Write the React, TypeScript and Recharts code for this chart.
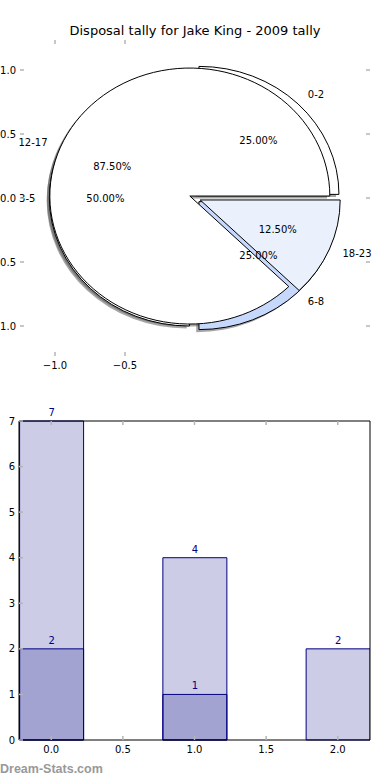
import React from 'react';
import { PieChart, Pie, BarChart, Bar, XAxis, YAxis, LabelList } from 'recharts';

// pie: two overlapping pies, drawn the way the original matplotlib figure did
const bandsA = ['0-2', '3-5', '6-8'];
const countsA = [2, 4, 2];
const bandsB = ['12-17', '18-23'];
const countsB = [7, 1];
const fillsA = ['#ffffff', '#ffffff', '#c6d9fd'];
const fillsB = ['#ffffff', '#eaf1fd'];
const explodeA = [0.04, 0.04, 0.04];
const explodeB = [0.04, 0.04];

const pieTicksY = [-1, -0.5, 0, 0.5, 1];
const pieTicksX = [-1, -0.5];

// bars
const barX = [0, 1, 2];
const barTotals = [7, 4, 2];
const barSubset = [2, 1, null];
const barTicksX = [0, 0.5, 1, 1.5, 2];
const barTicksY = [0, 1, 2, 3, 4, 5, 6, 7];

const FONT = 'DejaVu Sans';
const NAVY = '#000080';
const TICK = '#b4b4b4';

// pie axes: 1 unit = 140px across, 128px down (matplotlib axes were not square)
const CX = 195;
const CY = 198;
const UX = 140;
const UY = 128;

const pieA = bandsA.map((name, i) => ({ name, value: countsA[i], fill: fillsA[i], explode: explodeA[i] }));
const pieB = bandsB.map((name, i) => ({ name, value: countsB[i], fill: fillsB[i], explode: explodeB[i] }));

const barData = barX.map((x, i) => ({ x, total: barTotals[i], subset: barSubset[i] }));

const rad = Math.PI / 180;

function wedgePath(cx: number, cy: number, rx: number, ry: number, a0: number, a1: number) {
  const x0 = cx + rx * Math.cos(a0 * rad);
  const y0 = cy - ry * Math.sin(a0 * rad);
  const x1 = cx + rx * Math.cos(a1 * rad);
  const y1 = cy - ry * Math.sin(a1 * rad);
  const large = a1 - a0 > 180 ? 1 : 0;
  return `M${cx},${cy}L${x0},${y0}A${rx},${ry} 0 ${large} 0 ${x1},${y1}Z`;
}

function wedgeCentre(p: any) {
  const a0 = Math.min(p.startAngle, p.endAngle);
  const a1 = Math.max(p.startAngle, p.endAngle);
  const mid = (a0 + a1) / 2;
  const e = p.explode ?? p.payload?.explode ?? 0;
  const ry = (p.outerRadius * UY) / UX;
  return {
    a0,
    a1,
    mid,
    rx: p.outerRadius,
    ry,
    wx: p.cx + e * p.outerRadius * Math.cos(mid * rad),
    wy: p.cy - e * ry * Math.sin(mid * rad),
  };
}

const faceShape = (p: any) => {
  const w = wedgeCentre(p);
  const fill = p.payload?.fill ?? p.fill;
  return <path d={wedgePath(w.wx, w.wy, w.rx, w.ry, w.a0, w.a1)} fill={fill} stroke='#000' strokeWidth={1} />;
};

const shadowShape = (p: any) => {
  const w = wedgeCentre(p);
  return (
    <path
      d={wedgePath(w.wx - 0.02 * UX, w.wy + 0.02 * UY, w.rx, w.ry, w.a0, w.a1)}
      fill='#4d4d4d'
      fillOpacity={0.5}
      stroke='none'
    />
  );
};

const noShape = () => <g />;

const pieText = (p: any) => {
  const w = wedgeCentre(p);
  const c = Math.cos(p.midAngle * rad);
  const s = Math.sin(p.midAngle * rad);
  const pct = ((p.percent ?? 0) * 100).toFixed(2) + '%';
  return (
    <g key={`t-${p.name}`}>
      <text
        x={w.wx + 1.1 * w.rx * c}
        y={w.wy - 1.1 * w.ry * s}
        textAnchor={c > 0 ? 'start' : 'end'}
        dominantBaseline='central'
        fontFamily={FONT}
        fontSize={10}
        fill='#000'
      >
        {p.name}
      </text>
      <text
        x={w.wx + 0.6 * w.rx * c}
        y={w.wy - 0.6 * w.ry * s}
        textAnchor='middle'
        dominantBaseline='central'
        fontFamily={FONT}
        fontSize={10}
        fill='#000'
      >
        {pct}
      </text>
    </g>
  );
};

// the left tick labels run off the page edge in the original, only the digits show
const fmtPieLeft = (v: number) => Math.abs(v).toFixed(1);
const fmtPie = (v: number) => (v < 0 ? '\u2212' : '') + Math.abs(v).toFixed(1);

function PieFrame() {
  return (
    <svg width={390} height={390} style={{ position: 'absolute', left: 0, top: 0, pointerEvents: 'none' }}>
      <text x={195} y={30} textAnchor='middle' dominantBaseline='central' fontFamily={FONT} fontSize={13} fill='#000'>
        Disposal tally for Jake King - 2009 tally
      </text>
      {pieTicksY.map((v) => {
        const y = CY - v * UY;
        return (
          <g key={`y${v}`}>
            <line x1={20} x2={24} y1={y} y2={y} stroke={TICK} strokeWidth={1.5} />
            <line x1={366} x2={370} y1={y} y2={y} stroke={TICK} strokeWidth={1.5} />
            <text x={16} y={y} textAnchor='end' dominantBaseline='central' fontFamily={FONT} fontSize={10} fill='#000'>
              {fmtPieLeft(v)}
            </text>
          </g>
        );
      })}
      {pieTicksX.map((v) => {
        const x = CX + v * UX;
        return (
          <g key={`x${v}`}>
            <line x1={x} x2={x} y1={40} y2={44} stroke={TICK} strokeWidth={1.5} />
            <line x1={x} x2={x} y1={352} y2={356} stroke={TICK} strokeWidth={1.5} />
            <text x={x} y={365} textAnchor='middle' dominantBaseline='central' fontFamily={FONT} fontSize={10} fill='#000'>
              {fmtPie(v)}
            </text>
          </g>
        );
      })}
    </svg>
  );
}

const pieCommon = {
  dataKey: 'value',
  nameKey: 'name',
  cx: CX,
  cy: CY,
  innerRadius: 0,
  outerRadius: UX,
  startAngle: 0,
  endAngle: 360,
  stroke: 'none',
  labelLine: false,
  isAnimationActive: false,
};

// bar axes ticks, matplotlib style (pointing inwards)
const BottomTick = (p: any) => (
  <g>
    <line x1={p.x} x2={p.x} y1={p.y} y2={p.y - 4} stroke={TICK} strokeWidth={1.5} />
    <text x={p.x} y={p.y + 9.5} textAnchor='middle' dominantBaseline='central' fontFamily={FONT} fontSize={10} fill='#000'>
      {Number(p.payload.value).toFixed(1)}
    </text>
  </g>
);
const TopTick = (p: any) => <line x1={p.x} x2={p.x} y1={p.y} y2={p.y + 4} stroke={TICK} strokeWidth={1.5} />;
const LeftTick = (p: any) => (
  <g>
    <line x1={p.x} x2={p.x + 4} y1={p.y} y2={p.y} stroke={TICK} strokeWidth={1.5} />
    <text x={p.x - 4} y={p.y} textAnchor='end' dominantBaseline='central' fontFamily={FONT} fontSize={10} fill='#000'>
      {p.payload.value}
    </text>
  </g>
);
const RightTick = (p: any) => <line x1={p.x} x2={p.x - 4} y1={p.y} y2={p.y} stroke={TICK} strokeWidth={1.5} />;

const X_DOMAIN = [-0.225, 2.225];
const PLOT_W = 351;
const BAR_W = Math.round((0.45 * PLOT_W) / (X_DOMAIN[1] - X_DOMAIN[0]));

export default function App() {
  return (
    <div style={{ position: 'absolute', left: 0, top: 0, width: 390, height: 780, background: '#fff' }}>
      <div style={{ position: 'absolute', left: 0, top: 0, width: 390, height: 390 }}>
        <PieChart width={390} height={390} margin={{ top: 0, right: 0, bottom: 0, left: 0 }}>
          <Pie {...pieCommon} data={pieA} shape={shadowShape} inactiveShape={shadowShape} activeShape={shadowShape} label={false} />
          <Pie {...pieCommon} data={pieB} shape={shadowShape} inactiveShape={shadowShape} activeShape={shadowShape} label={false} />
          <Pie {...pieCommon} data={pieA} shape={faceShape} inactiveShape={faceShape} activeShape={faceShape} label={false} />
          <Pie {...pieCommon} data={pieB} shape={faceShape} inactiveShape={faceShape} activeShape={faceShape} label={false} />
          <Pie {...pieCommon} data={pieA} shape={noShape} inactiveShape={noShape} activeShape={noShape} label={pieText} />
          <Pie {...pieCommon} data={pieB} shape={noShape} inactiveShape={noShape} activeShape={noShape} label={pieText} />
        </PieChart>
        <PieFrame />
      </div>
      <div style={{ position: 'absolute', left: 0, top: 390, width: 390, height: 390 }}>
        <BarChart
          width={390}
          height={390}
          data={barData}
          margin={{ top: 1, right: 0, bottom: 0, left: 0 }}
          barSize={BAR_W}
          barGap={-BAR_W}
        >
          <Bar dataKey='total' fill={NAVY} fillOpacity={0.2} stroke={NAVY} strokeWidth={1} isAnimationActive={false}>
            <LabelList dataKey='total' position='top' fill={NAVY} fontFamily={FONT} fontSize={10} />
          </Bar>
          <Bar dataKey='subset' fill={NAVY} fillOpacity={0.2} stroke={NAVY} strokeWidth={1} isAnimationActive={false}>
            <LabelList dataKey='subset' position='top' fill={NAVY} fontFamily={FONT} fontSize={10} />
          </Bar>
          <XAxis
            dataKey='x'
            type='number'
            domain={X_DOMAIN}
            allowDataOverflow
            ticks={barTicksX}
            height={40}
            tickSize={0}
            tickMargin={0}
            tickLine={false}
            axisLine={{ stroke: '#000' }}
            tick={<BottomTick />}
            interval={0}
          />
          <XAxis
            xAxisId='top'
            orientation='top'
            dataKey='x'
            type='number'
            domain={X_DOMAIN}
            allowDataOverflow
            ticks={barTicksX}
            height={30}
            tickSize={0}
            tickMargin={0}
            tickLine={false}
            axisLine={{ stroke: '#000' }}
            tick={<TopTick />}
            interval={0}
          />
          <YAxis
            type='number'
            domain={[0, 7]}
            ticks={barTicksY}
            width={19}
            tickSize={0}
            tickMargin={0}
            tickLine={false}
            axisLine={{ stroke: '#000' }}
            tick={<LeftTick />}
            interval={0}
          />
          <YAxis
            yAxisId='right'
            orientation='right'
            type='number'
            domain={[0, 7]}
            ticks={barTicksY}
            width={20}
            tickSize={0}
            tickMargin={0}
            tickLine={false}
            axisLine={{ stroke: '#000' }}
            tick={<RightTick />}
            interval={0}
          />
        </BarChart>
      </div>
      <div
        style={{
          position: 'absolute',
          left: 0,
          top: 762,
          fontFamily: 'Liberation Sans',
          fontWeight: 'bold',
          fontSize: 12.5,
          color: '#999999',
          lineHeight: '15px',
        }}
      >
        Dream-Stats.com
      </div>
    </div>
  );
}
